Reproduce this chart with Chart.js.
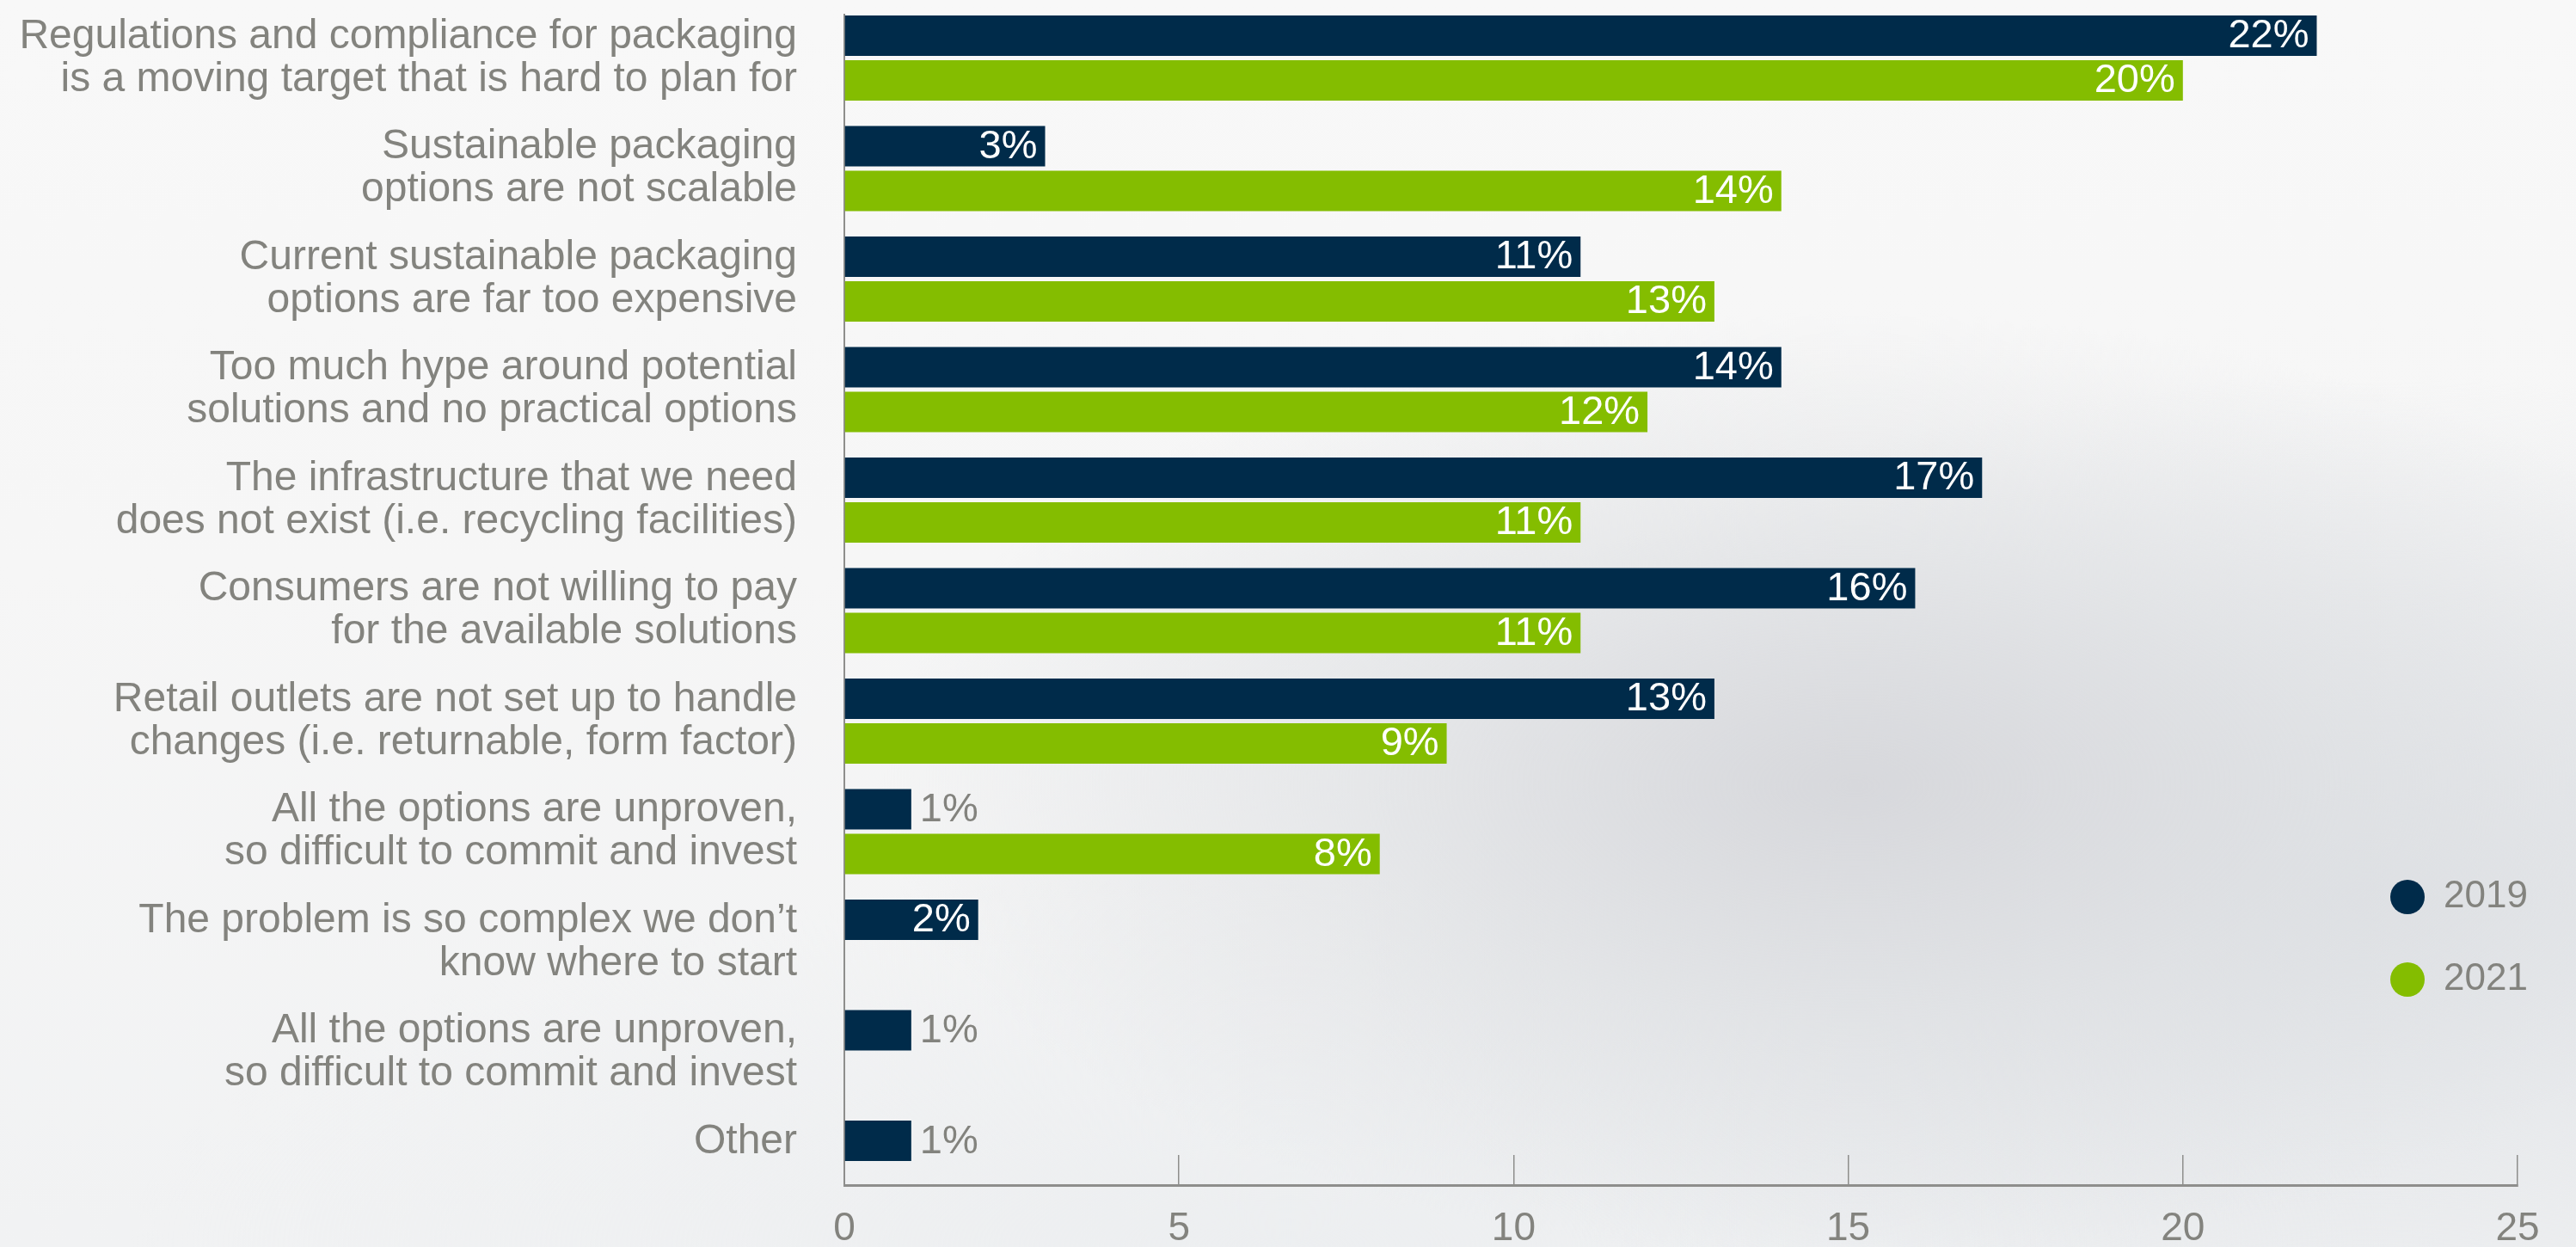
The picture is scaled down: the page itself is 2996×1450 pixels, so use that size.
<!DOCTYPE html>
<html>
<head>
<meta charset="utf-8">
<script src="https://cdn.jsdelivr.net/npm/chart.js@4/dist/chart.umd.min.js"></script>
<style>
  html, body { margin: 0; padding: 0; overflow: hidden; width: 2996px; height: 1450px; }
  body {
    background:
      radial-gradient(ellipse 38% 38% at 72% 63%, rgba(214,215,219,0.95) 0%, rgba(220,222,225,0.6) 50%, rgba(230,232,234,0) 100%),
      radial-gradient(ellipse 40% 42% at 92% 72%, rgba(222,225,229,0.9) 0%, rgba(228,230,233,0) 100%),
      radial-gradient(ellipse 45% 30% at 50% 100%, rgba(236,238,240,0.9) 0%, rgba(240,241,242,0) 100%),
      linear-gradient(180deg, #f8f8f8 0%, #f6f6f6 45%, #f1f2f3 100%);
  }
  #wrap { position: absolute; left: 0; top: 0; width: 2996px; height: 1458px; }
</style>
</head>
<body>
<div id="wrap"><canvas id="c"></canvas></div>
<script>
const categories = [
  ["Regulations and compliance for packaging", "is a moving target that is hard to plan for"],
  ["Sustainable packaging", "options are not scalable"],
  ["Current sustainable packaging", "options are far too expensive"],
  ["Too much hype around potential", "solutions and no practical options"],
  ["The infrastructure that we need", "does not exist (i.e. recycling facilities)"],
  ["Consumers are not willing to pay", "for the available solutions"],
  ["Retail outlets are not set up to handle", "changes (i.e. returnable, form factor)"],
  ["All the options are unproven,", "so difficult to commit and invest"],
  ["The problem is so complex we don\u2019t", "know where to start"],
  ["All the options are unproven,", "so difficult to commit and invest"],
  ["Other", ""]
];
const seriesNames = ["2019", "2021"];
const values2019 = [22, 3, 11, 14, 17, 16, 13, 1, 2, 1, 1];
const values2021 = [20, 14, 13, 12, 11, 11, 9, 8, null, null, null];
const xTickValues = [0, 5, 10, 15, 20, 25];

const NAVY = '#002b4a';
const GREEN = '#84bd00';
const GRAY = '#83837e';
const AXIS = '#8e8e8c';

function toPoints(vals) {
  return vals.map((v, i) => ({ x: v, y: i })).filter(p => p.x !== null);
}

const valueLabels = {
  id: 'valueLabels',
  afterDatasetsDraw(chart) {
    const ctx = chart.ctx;
    ctx.save();
    ctx.font = '47px "Liberation Sans", Arial, sans-serif';
    ctx.textBaseline = 'middle';
    chart.data.datasets.forEach((ds, di) => {
      const meta = chart.getDatasetMeta(di);
      meta.data.forEach((bar, i) => {
        const v = ds.data[i].x;
        const txt = v + '%';
        if (v >= 2) {
          ctx.fillStyle = '#ffffff';
          ctx.textAlign = 'right';
          ctx.fillText(txt, bar.x - 9, bar.y + 1);
        } else {
          ctx.fillStyle = GRAY;
          ctx.textAlign = 'left';
          ctx.fillText(txt, bar.x + 10, bar.y + 1);
        }
      });
    });
    ctx.restore();
  }
};

const legendPlace = {
  id: 'legendPlace',
  afterLayout(chart) {
    const lg = chart.legend;
    if (!lg) return;
    lg.left = 2728; lg.right = 2728 + 260;
    lg.top = 969; lg.bottom = 969 + 380;
  }
};

new Chart(document.getElementById('c'), {
  type: 'bar',
  data: {
    datasets: [
      { label: seriesNames[0], data: toPoints(values2019), backgroundColor: NAVY, borderWidth: 0 },
      { label: seriesNames[1], data: toPoints(values2021), backgroundColor: GREEN, borderWidth: 0 }
    ]
  },
  options: {
    indexAxis: 'y',
    responsive: true,
    maintainAspectRatio: false,
    animation: false,
    categoryPercentage: 0.8093,
    barPercentage: 0.9038,
    layout: { autoPadding: false, padding: { left: 0, right: 68, top: 17, bottom: 0 } },
    scales: {
      y: {
        type: 'linear',
        reverse: true,
        offset: false,
        min: -0.393,
        max: 10.198,
        afterBuildTicks: (s) => { s.ticks = categories.map((_, i) => ({ value: i })); },
        afterFit: (s) => { s.width = 982; s.paddingTop = 0; s.paddingBottom = 0; },
        grid: { display: false, drawTicks: false },
        border: { display: true, color: AXIS, width: 2 },
        ticks: {
          autoSkip: false,
          padding: 55,
          color: GRAY,
          font: { family: '"Liberation Sans", Arial, sans-serif', size: 48, lineHeight: 1.05 },
          callback: (v) => categories[v]
        }
      },
      x: {
        type: 'linear',
        min: 0,
        max: 25,
        afterBuildTicks: (s) => { s.ticks = xTickValues.map(v => ({ value: v })); },
        afterFit: (s) => { s.height = 80; s.paddingLeft = 0; s.paddingRight = 0; },
        grid: {
          display: true,
          drawOnChartArea: false,
          drawTicks: true,
          tickLength: -35,
          color: AXIS,
          tickColor: AXIS,
          lineWidth: 1.5,
          tickWidth: 1.5
        },
        border: { display: true, color: AXIS, width: 3 },
        ticks: {
          padding: 59,
          color: GRAY,
          font: { family: '"Liberation Sans", Arial, sans-serif', size: 46 }
        }
      }
    },
    plugins: {
      tooltip: { enabled: false },
      legend: {
        position: 'chartArea',
        align: 'start',
        labels: {
          usePointStyle: true,
          pointStyle: 'circle',
          boxHeight: 28.3,
          pointStyleWidth: 40,
          padding: 52,
          color: GRAY,
          font: { family: '"Liberation Sans", Arial, sans-serif', size: 44 }
        }
      }
    }
  },
  plugins: [valueLabels, legendPlace]
});
</script>
</body>
</html>
